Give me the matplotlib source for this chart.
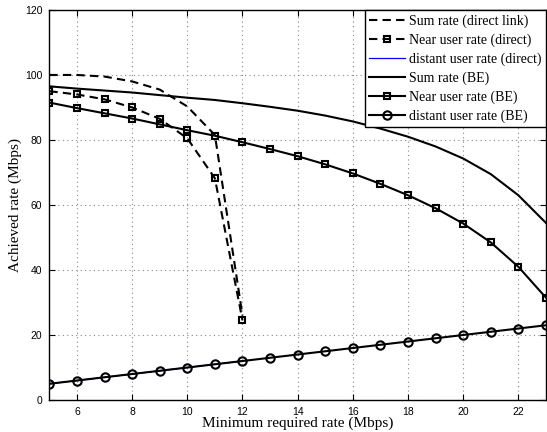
import numpy as np
import matplotlib
matplotlib.use("Agg")
import matplotlib.pyplot as plt

# Values
rate_min = [5, 6, 7, 8, 9, 10, 11, 12, 13, 14, 15, 16, 17, 18, 19, 20, 21, 22, 23]
rate_min_direct = [5, 6, 7, 8, 9, 10, 11, 12]

sum_direct = [100, 100, 99.5, 98, 95.5, 90.3, 81.5, 26]
near_direct = [95, 94, 92.5, 90, 86.5, 80.5, 68.2, 24.5]
distant_direct = [5, 6, 7, 8, 9, 10, 11, 12]

near_be = [91.5, 89.8, 88.2, 86.6, 84.8, 83, 81.3, 79.3, 77.2, 75, 72.5, 69.7,
           66.5, 63, 59, 54.3, 48.5, 41, 31.5]
distant_be = [5, 6, 7, 8, 9, 10, 11, 12, 13, 14, 15, 16, 17, 18, 19, 20, 21, 22, 23]
sum_be = [96.5, 95.8, 95.2, 94.6, 93.8, 93, 92.3, 91.3, 90.2, 89, 87.5, 85.7,
          83.5, 81, 78, 74.3, 69.5, 63, 54.5]

serif = ['Liberation Serif', 'DejaVu Serif']
sans = ['Liberation Sans', 'DejaVu Sans']

fig = plt.figure(figsize=(5.47, 4.32), dpi=100)
ax = fig.add_axes([0.0903, 0.074, 0.9077, 0.903])

dash = (0, (4, 2.5))
ax.plot(rate_min_direct, sum_direct, color='k', lw=1.5, linestyle=dash,
        label='Sum rate (direct link)')
ax.plot(rate_min_direct, near_direct, color='k', lw=1.5, linestyle=dash,
        marker='s', ms=5, mfc='none', mew=1.5, label='Near user rate (direct)')
ax.plot(rate_min_direct, distant_direct, color='b', lw=0.9,
        label='distant user rate (direct)', zorder=1)
ax.plot(rate_min, sum_be, color='k', lw=1.5, label='Sum rate (BE)')
ax.plot(rate_min, near_be, color='k', lw=1.5, marker='s', ms=5, mfc='none',
        mew=1.5, label='Near user rate (BE)')
ax.plot(rate_min, distant_be, color='k', lw=1.5, marker='o', ms=6, mfc='none',
        mew=1.5, label='distant user rate (BE)')

ax.set_xlim(5, 23)
ax.set_ylim(0, 120)
ax.set_xticks(np.arange(6, 23, 2))
ax.set_yticks(np.arange(0, 121, 20))
ax.grid(True, linestyle=(0, (1, 3)), color='#888888', lw=0.8)
ax.tick_params(direction='in', top=True, right=True, length=4, width=0.8,
               labelsize=7.5, pad=5)
for lbl in ax.get_xticklabels() + ax.get_yticklabels():
    lbl.set_family(sans)
for sp in ax.spines.values():
    sp.set_linewidth(1.0)

ax.set_xlabel('Minimum required rate (Mbps)', family=serif, fontsize=11, labelpad=0)
ax.set_ylabel('Achieved rate (Mbps)', family=serif, fontsize=11)
ax.yaxis.set_label_coords(-0.056, 0.5)

leg = ax.legend(loc='upper right', prop={'family': serif, 'size': 10},
                handlelength=2.6, labelspacing=0.4, borderaxespad=0,
                fancybox=False, framealpha=1, edgecolor='k',
                borderpad=0.3, handletextpad=0.3)
leg.get_frame().set_linewidth(1.0)

fig.savefig('out.png', dpi=100)
